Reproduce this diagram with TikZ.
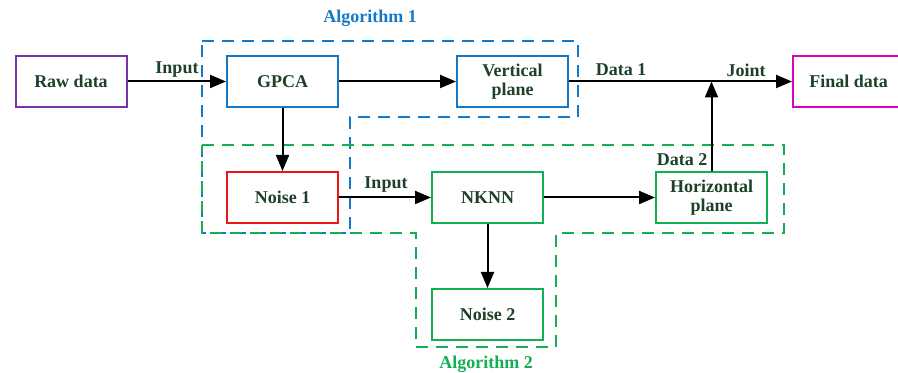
\documentclass[tikz,border=0pt]{standalone}
\usepackage{fontspec}
\setmainfont{Liberation Serif}
\usetikzlibrary{arrows.meta}
\definecolor{txt}{RGB}{28,64,40}
\definecolor{bluec}{RGB}{20,120,200}
\definecolor{greenc}{RGB}{20,175,80}
\definecolor{purplec}{RGB}{120,50,170}
\definecolor{magc}{RGB}{220,0,190}
\definecolor{redc}{RGB}{240,20,20}
\tikzset{
  box/.style={draw, line width=1pt, minimum width=55.5pt, minimum height=25.5pt, inner sep=0pt, align=center, text=txt, font=\fontsize{9pt}{9.8pt}\selectfont\bfseries},
  lbl/.style={text=txt, font=\fontsize{9pt}{10pt}\selectfont\bfseries, inner sep=0pt},
  arr/.style={line width=1pt, -{Triangle[length=8pt,width=6.5pt]}},
  region/.style={line width=1pt, dash pattern=on 6pt off 4pt}
}
\begin{document}
\begin{tikzpicture}[x=0.5pt,y=-0.5pt]
\useasboundingbox (0,0) rectangle (898,373);
% regions
\draw[region, bluec] (202,41) -- (578,41) -- (578,117) -- (350,117) -- (350,233) -- (202,233) -- cycle;
\draw[region, greenc] (202,145) -- (784,145) -- (784,233) -- (556,233) -- (556,347) -- (416,347) -- (416,233) -- (202,233) -- cycle;
% nodes
\node[box, draw=purplec] (raw) at (71,81.5) {Raw data};
\node[box, draw=bluec] (gpca) at (282.5,81.5) {GPCA};
\node[box, draw=bluec] (vert) at (512.5,81.5) {Vertical\\plane};
\node[box, draw=magc] (final) at (848.5,81.5) {Final data};
\node[box, draw=redc] (n1) at (282.5,197.5) {Noise 1};
\node[box, draw=greenc] (nknn) at (487.5,197.5) {NKNN};
\node[box, draw=greenc] (n2) at (487.5,314.5) {Noise 2};
\node[box, draw=greenc] (horiz) at (711.5,197.5) {Horizontal\\plane};
\coordinate (j) at (711.5,81.5);
% connectors
\draw[arr] (raw) -- (gpca);
\draw[arr] (gpca) -- (vert);
\draw[line width=1pt] (vert.east) -- (j);
\draw[arr] (j) -- (final);
\draw[arr] (gpca) -- (n1);
\draw[arr] (n1) -- (nknn);
\draw[arr] (nknn) -- (horiz);
\draw[arr] (nknn) -- (n2);
\draw[arr] (horiz.north) -- (j);
% labels
\node[lbl] at (177,70) {Input};
\node[lbl] at (621,70) {Data 1};
\node[lbl] at (746,70) {Joint};
\node[lbl] at (682,160) {Data 2};
\node[lbl] at (386,185) {Input};
\node[lbl, text=bluec] at (370,18) {Algorithm 1};
\node[lbl, text=greenc] at (486,364) {Algorithm 2};
\end{tikzpicture}
\end{document}
